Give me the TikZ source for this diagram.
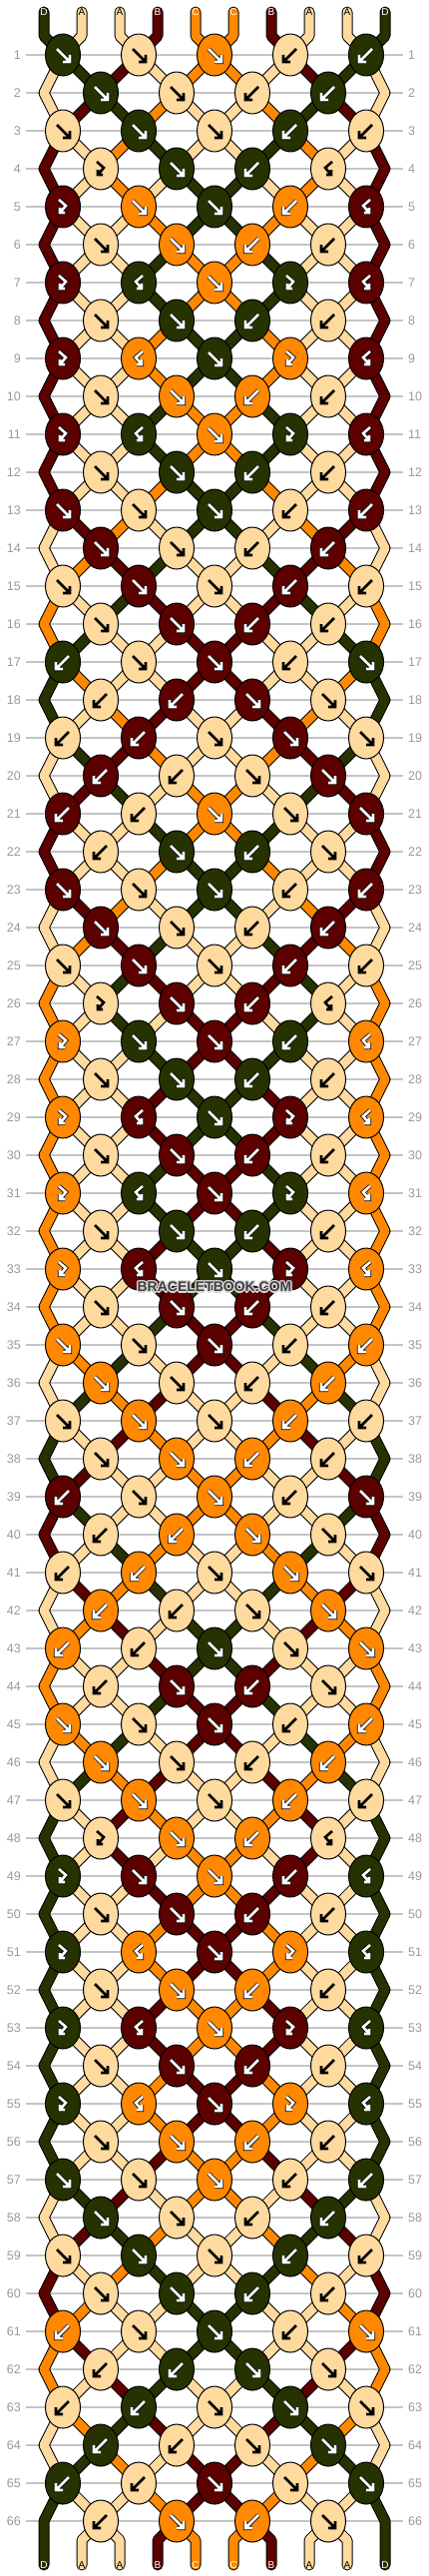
\documentclass[tikz,border=0pt]{standalone}
\usepackage{fontspec}
\setmainfont{Liberation Sans}
\usetikzlibrary{shapes.geometric,calc}

\definecolor{cA}{HTML}{FFDA9E}
\definecolor{cB}{HTML}{5C0000}
\definecolor{cC}{HTML}{FF8800}
\definecolor{cD}{HTML}{263300}
\definecolor{gridgray}{HTML}{C4C4C4}
\definecolor{numgray}{HTML}{999999}
\definecolor{wmgray}{HTML}{404040}
\definecolor{halogray}{HTML}{D8D8D8}

% arrow marks inside the knots
\newcommand{\glyphF}{(-6,-6) -- (7,7) (0,7) -- (7,7) -- (7,0)}
\newcommand{\glyphB}{(6,-6) -- (-7,7) (0,7) -- (-7,7) -- (-7,0)}
\newcommand{\glyphf}{(-4,-7) -- (3,-1) -- (-3,6) (-3,1) -- (-3,6) -- (2,6)}
\newcommand{\glyphb}{(4,-7) -- (-3,-1) -- (3,6) (3,1) -- (3,6) -- (-2,6)}

% string colours, one macro per string
\newcommand{\resetstr}{\foreach \sc [count=\i] in {D,A,A,B,C,C,B,A,A,D}
  {\expandafter\xdef\csname str\i\endcsname{\sc}}}
\newcommand{\swapstr}{\expandafter\xdef\csname str\pl\endcsname{\colR}%
  \expandafter\xdef\csname str\pr\endcsname{\colL}}
\newcommand{\readknot}{%
  \pgfmathtruncatemacro{\pl}{2*\kn-2+\lo}%
  \pgfmathtruncatemacro{\pr}{\pl+1}%
  \edef\colL{\csname str\pl\endcsname}%
  \edef\colR{\csname str\pr\endcsname}%
  \edef\lcol{c\colL}\edef\rcol{c\colR}%
  \edef\kc{\colL}%
  \if\kt B\edef\kc{\colR}\fi
  \if\kt b\edef\kc{\colR}\fi
  \if\kt F\swapstr\fi
  \if\kt B\swapstr\fi
  \edef\kcol{c\kc}}

\newcommand{\knotrows}{%
{F,F,F,B,B},{F,F,B,B},{F,F,F,B,B},{f,F,B,b},{f,F,F,B,b},%
{F,F,B,B},{f,b,F,f,b},{F,F,B,B},{f,b,F,f,b},{F,F,B,B},%
{f,b,F,f,b},{F,F,B,B},{F,F,F,B,B},{F,F,B,B},{F,F,F,B,B},%
{F,F,B,B},{B,F,F,B,F},{B,B,F,F},{B,B,F,F,F},{B,B,F,F},%
{B,B,F,F,F},{B,F,B,F},{F,F,F,B,B},{F,F,B,B},{F,F,F,B,B},%
{f,F,B,b},{f,F,F,B,b},{F,F,B,B},{f,b,F,f,b},{F,F,B,B},%
{f,b,F,f,b},{F,F,B,B},{f,b,F,f,b},{F,F,B,B},{F,F,F,B,B},%
{F,F,B,B},{F,F,F,B,B},{F,F,B,B},{B,F,F,B,F},{B,B,F,F},%
{B,B,F,F,F},{B,B,F,F},{B,B,F,F,F},{B,F,B,F},{F,F,F,B,B},%
{F,F,B,B},{F,F,F,B,B},{f,F,B,b},{f,F,F,B,b},{F,F,B,B},%
{f,b,F,f,b},{F,F,B,B},{f,b,F,f,b},{F,F,B,B},{f,b,F,f,b},%
{F,F,B,B},{F,F,F,B,B},{F,F,B,B},{F,F,F,B,B},{F,F,B,B},%
{B,F,F,B,F},{B,B,F,F},{B,B,F,F,F},{B,B,F,F},{B,B,F,F,F},%
{B,F,B,F}}

\begin{document}
\begin{tikzpicture}[x=1pt, y=-1pt, line join=round]
	\tikzstyle{knot} = [ellipse, draw=black, line width=1pt, minimum width=35pt, minimum height=42pt, inner sep=0pt]
	\tikzstyle{strand} = [draw=black, line width=1pt, double distance=9pt, line cap=round]
	\tikzstyle{hand} = [line width=2.6pt, line cap=butt, line join=miter]
	\tikzstyle{rowrule} = [draw=gridgray, line width=1.2pt]
	\tikzstyle{rowno} = [text=numgray, inner sep=0pt, font=\fontsize{12.5}{14}\selectfont]
	\tikzstyle{tag} = [inner sep=0pt, font=\fontsize{10}{10}\selectfont]
	\tikzstyle{wmtext} = [inner sep=0pt, font=\fontsize{14}{14}\selectfont\bfseries]
	\useasboundingbox (0,0) rectangle (430,2580);
	\fill[white] (0,0) rectangle (430,2580);
	% rows: rules, numbers, knot places
	\foreach \types [count=\rw] in \knotrows {
		\pgfmathsetmacro{\yy}{55+38*(\rw-1)}
		\draw[rowrule] (26,\yy) -- (404,\yy);
		\node[rowno, anchor=east] (nl-\rw) at (21,\yy) {\rw};
		\node[rowno, anchor=west] (nr-\rw) at (409,\yy) {\rw};
		\ifodd\rw \def\xo{63}\else \def\xo{101}
			\coordinate (eL-\rw) at (44,\yy);
			\coordinate (eR-\rw) at (386,\yy);
		\fi
		\foreach \kt [count=\kn] in \types {
			\pgfmathsetmacro{\xx}{\xo+76*(\kn-1)}
			\coordinate (k-\rw-\kn) at (\xx,\yy);
		}
	}
	% strings coming in at the top
	\foreach \sc [count=\i] in {D,A,A,B,C,C,B,A,A,D} {
		\pgfmathtruncatemacro{\kn}{(\i+1)/2}
		\pgfmathsetmacro{\xs}{44+38*(\i-1)}
		\edef\scol{c\sc}
		\coordinate (top-\i) at (\xs,12);
		\coordinate (bend-\i) at (\xs,36);
		\draw[strand, double=\scol] (top-\i) -- (bend-\i) -- (k-1-\kn);
	}
	% strings between the knots
	\resetstr
	\foreach \types [count=\rw] in \knotrows {
		\pgfmathtruncatemacro{\rwm}{\rw-1}
		\pgfmathtruncatemacro{\rwmm}{\rw-2}
		\ifodd\rw \def\lo{1}\else \def\lo{2}\fi
		\foreach \kt [count=\kn] in \types {
			\pgfmathtruncatemacro{\knm}{\kn-1}
			\pgfmathtruncatemacro{\knp}{\kn+1}
			\readknot
			\ifodd\rw
				\ifnum\rw>1
					\ifnum\kn=1
						\draw[strand, double=\lcol] (k-\rwmm-1) -- (eL-\rwm) -- (k-\rw-1);
					\else
						\draw[strand, double=\lcol] (k-\rwm-\knm) -- (k-\rw-\kn);
					\fi
					\ifnum\kn=5
						\draw[strand, double=\rcol] (k-\rwmm-5) -- (eR-\rwm) -- (k-\rw-5);
					\else
						\draw[strand, double=\rcol] (k-\rwm-\kn) -- (k-\rw-\kn);
					\fi
				\fi
			\else
				\draw[strand, double=\lcol] (k-\rwm-\kn) -- (k-\rw-\kn);
				\draw[strand, double=\rcol] (k-\rwm-\knp) -- (k-\rw-\kn);
			\fi
		}
	}
	% strings going out at the bottom
	\foreach \i in {1,...,10} {
		\pgfmathtruncatemacro{\kn}{\i/2}
		\pgfmathsetmacro{\xs}{44+38*(\i-1)}
		\edef\sc{\csname str\i\endcsname}
		\edef\scol{c\sc}
		\def\tcol{white}\if\sc A\def\tcol{black}\fi
		\coordinate (low-\i) at (\xs,2544);
		\coordinate (end-\i) at (\xs,2569);
		\ifnum\i=1
			\draw[strand, double=\scol] (k-65-1) -- (eL-66) -- (end-1);
		\else\ifnum\i=10
			\draw[strand, double=\scol] (k-65-5) -- (eR-66) -- (end-10);
		\else
			\draw[strand, double=\scol] (k-66-\kn) -- (low-\i) -- (end-\i);
		\fi\fi
		\node[tag, text=\tcol] (bt-\i) at (end-\i) {\sc};
	}
	% the knots
	\resetstr
	\foreach \types [count=\rw] in \knotrows {
		\ifodd\rw \def\lo{1}\else \def\lo{2}\fi
		\foreach \kt [count=\kn] in \types {
			\readknot
			\node[knot, fill=\kcol] (knot-\rw-\kn) at (k-\rw-\kn) {};
			\expandafter\let\expandafter\glyph\csname glyph\kt\endcsname
			\if\kc A
				\draw[hand, black, shift={(knot-\rw-\kn.center)}] \glyph;
			\else
				\draw[hand, black, line width=4.2pt, shift={(knot-\rw-\kn.center)}] \glyph;
				\draw[hand, white, shift={(knot-\rw-\kn.center)}] \glyph;
			\fi
		}
	}
	% letters on the strings at the top
	\foreach \sc [count=\i] in {D,A,A,B,C,C,B,A,A,D} {
		\def\tcol{white}\if\sc A\def\tcol{black}\fi
		\node[tag, text=\tcol] (tt-\i) at (top-\i) {\sc};
	}
	% watermark
	\foreach \a in {0,45,...,315}
		\node[wmtext, text=halogray] (halo-\a) at ($(215,1289)+(\a:1.4)$) {BRACELETBOOK.COM};
	\node[wmtext, text=wmgray] (wm) at (215,1289) {BRACELETBOOK.COM};
\end{tikzpicture}
\end{document}
